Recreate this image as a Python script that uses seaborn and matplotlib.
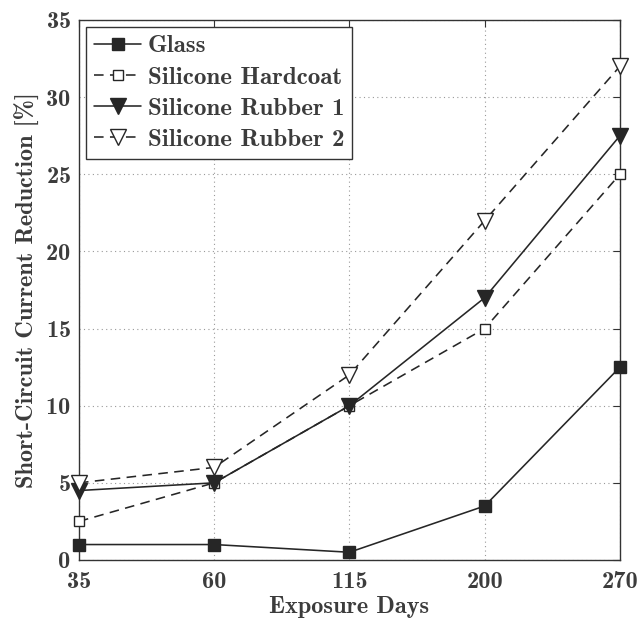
import numpy as np
import pandas as pd
import matplotlib
matplotlib.use("Agg")
import matplotlib.pyplot as plt
import seaborn as sns

days = ["35", "60", "115", "200", "270"]
glass = [1.0, 1.0, 0.5, 3.5, 12.5]
hardcoat = [2.5, 5.0, 10.0, 15.0, 25.0]
rubber1 = [4.5, 5.0, 10.0, 17.0, 27.5]
rubber2 = [5.0, 6.0, 12.0, 22.0, 32.0]
series_names = ["Glass", "Silicone Hardcoat", "Silicone Rubber 1", "Silicone Rubber 2"]

sns.set_style("white")
plt.rcParams["font.family"] = ["cmb10", "DejaVu Serif"]
plt.rcParams["axes.formatter.use_mathtext"] = True
plt.rcParams["mathtext.fontset"] = "cm"

fig = plt.figure(figsize=(6.41, 6.18), dpi=100)
ax = fig.add_axes([0.1232, 0.0939, 0.8440, 0.8738])

ink = "#262626"
text_ink = "#3c3c3c"
pos = np.arange(len(days))
styles = {
    "Glass": dict(marker="s", linestyle="-", mfc=ink, ms=8),
    "Silicone Hardcoat": dict(marker="s", linestyle=(0, (6, 4)), mfc="white", ms=7.5),
    "Silicone Rubber 1": dict(marker="v", linestyle="-", mfc=ink, ms=12),
    "Silicone Rubber 2": dict(marker="v", linestyle=(0, (6, 4)), mfc="white", ms=12),
}
values = [glass, hardcoat, rubber1, rubber2]
for name, vals in zip(series_names, values):
    df = pd.DataFrame({"x": pos, "y": vals})
    st = styles[name]
    sns.lineplot(data=df, x="x", y="y", ax=ax, color=ink, lw=1.15,
                 marker=st["marker"], linestyle=st["linestyle"],
                 markerfacecolor=st["mfc"], markeredgecolor=ink,
                 markersize=st["ms"], markeredgewidth=1.0, label=name,
                 clip_on=False, zorder=3)

ax.set_xlim(0, 4)
ax.set_ylim(0, 35)
ax.set_xticks(pos)
ax.set_xticklabels(days)
ax.set_yticks(range(0, 36, 5))
ax.tick_params(direction="in", labelsize=17.5, length=5,
               top=True, right=True, color="#333333", labelcolor=text_ink)
ax.tick_params(axis="x", pad=8)
ax.tick_params(axis="y", pad=6)
ax.grid(True, linestyle=(0, (1, 3)), color="#999999", lw=0.8)
for s in ax.spines.values():
    s.set_color("#333333")
    s.set_linewidth(1.0)
ax.set_xlabel("Exposure Days", fontsize=17.5, labelpad=2, color=text_ink)
ax.set_ylabel("Short-Circuit Current Reduction [%]", fontsize=17.5, labelpad=4,
              color=text_ink)

leg = ax.legend(loc="upper left", fontsize=18, frameon=True, fancybox=False,
                edgecolor="#333333", framealpha=1, handlelength=1.9,
                handletextpad=0.25, borderpad=0.3, labelspacing=0.35,
                borderaxespad=0.3)
leg.get_frame().set_linewidth(1.0)
for t in leg.get_texts():
    t.set_color(text_ink)

fig.savefig("out.png", dpi=100)
